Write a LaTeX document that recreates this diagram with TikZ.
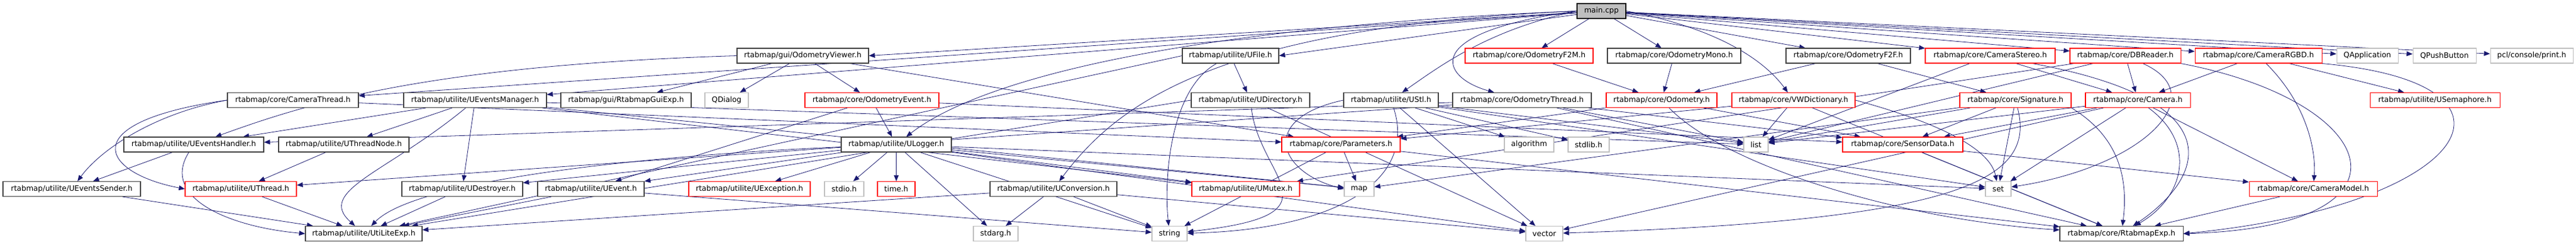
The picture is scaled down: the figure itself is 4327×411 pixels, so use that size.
\documentclass[tikz,border=0pt]{standalone}
\usepackage{fontspec}
\setmainfont{DejaVu Sans}
\usetikzlibrary{arrows.meta}
\definecolor{edgecol}{RGB}{25,25,112}
\definecolor{grayb}{RGB}{191,191,191}
\definecolor{redb}{RGB}{255,0,0}
\definecolor{blackb}{RGB}{64,64,64}
\pgfdeclarelayer{bg}
\pgfsetlayers{bg,main}
\begin{document}
\begin{tikzpicture}[x=1pt,y=-1pt,
  box/.style={draw, rectangle, minimum height=25pt, inner sep=0pt, line width=1.1pt,
              font=\fontsize{12.5pt}{15pt}\selectfont, fill=white},
  blk/.style={box, draw=blackb},
  rd/.style={box, draw=redb},
  gr/.style={box, draw=grayb},
  mainbox/.style={box, draw=black, fill=grayb},
  dep/.style={draw=edgecol, line width=0.8pt, -{Triangle[length=10pt,width=8pt]}}]
\useasboundingbox (0,0) rectangle (4327,411);
% row 0
\node[mainbox, minimum width=82pt] (main) at (2690,18.5) {main.cpp};
% row 1
\node[blk, minimum width=221pt] (OV) at (1348.5,93.5) {rtabmap/gui/OdometryViewer.h};
\node[blk, minimum width=162pt] (UFile) at (2067,93.5) {rtabmap/utilite/UFile.h};
\node[rd, minimum width=215pt] (F2M) at (2568.5,93.5) {rtabmap/core/OdometryF2M.h};
\node[blk, minimum width=224pt] (Mono) at (2812,93.5) {rtabmap/core/OdometryMono.h};
\node[blk, minimum width=209pt] (F2F) at (3104.5,93.5) {rtabmap/core/OdometryF2F.h};
\node[rd, minimum width=218pt] (CSt) at (3343,93.5) {rtabmap/core/CameraStereo.h};
\node[rd, minimum width=186pt] (DBR) at (3570,93.5) {rtabmap/core/DBReader.h};
\node[rd, minimum width=213pt] (CRGBD) at (3793.5,93.5) {rtabmap/core/CameraRGBD.h};
\node[gr, minimum width=103pt] (QApp) at (3976.5,93.5) {QApplication};
\node[gr, minimum width=106pt] (QPB) at (4106,93.5) {QPushButton};
\node[gr, minimum width=139pt] (pcl) at (4252.5,93.5) {pcl/console/print.h};
% row 2
\node[blk, minimum width=220pt] (CT) at (492,168) {rtabmap/core/CameraThread.h};
\node[blk, minimum width=240pt] (UEM) at (798,168) {rtabmap/utilite/UEventsManager.h};
\node[blk, minimum width=219pt] (GuiExp) at (1051.5,168) {rtabmap/gui/RtabmapGuiExp.h};
\node[gr, minimum width=73pt] (QDlg) at (1220.5,168) {QDialog};
\node[rd, minimum width=225pt] (OEv) at (1464.5,168) {rtabmap/core/OdometryEvent.h};
\node[blk, minimum width=199pt] (UDir) at (2100.5,168) {rtabmap/utilite/UDirectory.h};
\node[blk, minimum width=159pt] (UStl) at (2336.5,168) {rtabmap/utilite/UStl.h};
\node[blk, minimum width=233pt] (OThr) at (2556.5,168) {rtabmap/core/OdometryThread.h};
\node[rd, minimum width=186pt] (Odom) at (2791,168) {rtabmap/core/Odometry.h};
\node[rd, minimum width=207pt] (VWD) at (3012.5,168) {rtabmap/core/VWDictionary.h};
\node[rd, minimum width=187pt] (Sig) at (3385.5,168) {rtabmap/core/Signature.h};
\node[rd, minimum width=176pt] (Cam) at (3591,168) {rtabmap/core/Camera.h};
\node[rd, minimum width=218pt] (USem) at (4090,168) {rtabmap/utilite/USemaphore.h};
% row 3
\node[blk, minimum width=235pt] (UEH) at (325.5,242.5) {rtabmap/utilite/UEventsHandler.h};
\node[blk, minimum width=219pt] (UTN) at (577.5,242.5) {rtabmap/utilite/UThreadNode.h};
\node[blk, minimum width=185pt] (ULog) at (1505.5,242.5) {rtabmap/utilite/ULogger.h};
\node[rd, minimum width=199pt] (Par) at (2252.5,242.5) {rtabmap/core/Parameters.h};
\node[gr, minimum width=83pt] (alg) at (2568.5,242.5) {algorithm};
\node[gr, minimum width=69pt] (stdlib) at (2668.5,242.5) {stdlib.h};
\node[gr, minimum width=41pt] (list) at (2949.5,242.5) {list};
\node[rd, minimum width=202pt] (SD) at (3196,242.5) {rtabmap/core/SensorData.h};
% row 4
\node[blk, minimum width=231pt] (UES) at (120.5,317) {rtabmap/utilite/UEventsSender.h};
\node[rd, minimum width=187pt] (UTh) at (404.5,317) {rtabmap/utilite/UThread.h};
\node[blk, minimum width=203pt] (UDes) at (776.5,317) {rtabmap/utilite/UDestroyer.h};
\node[blk, minimum width=179pt] (UEv) at (992.5,317) {rtabmap/utilite/UEvent.h};
\node[rd, minimum width=204pt] (UExc) at (1259,317) {rtabmap/utilite/UException.h};
\node[gr, minimum width=66pt] (stdio) at (1418,317) {stdio.h};
\node[rd, minimum width=63pt] (time) at (1505.5,317) {time.h};
\node[blk, minimum width=213pt] (UConv) at (1769.5,317) {rtabmap/utilite/UConversion.h};
\node[rd, minimum width=181pt] (UMut) at (2092.5,317) {rtabmap/utilite/UMutex.h};
\node[gr, minimum width=50pt] (map) at (2283,317) {map};
\node[gr, minimum width=43pt] (set) at (3356.5,317) {set};
\node[rd, minimum width=215pt] (CMod) at (3885.5,317) {rtabmap/core/CameraModel.h};
% row 5
\node[blk, minimum width=196pt] (ULE) at (611,392) {rtabmap/utilite/UtiLiteExp.h};
\node[gr, minimum width=75pt] (stdarg) at (1672.5,392) {stdarg.h};
\node[gr, minimum width=59pt] (string) at (1964.5,392) {string};
\node[gr, minimum width=62pt] (vector) at (2594,392) {vector};
\node[blk, minimum width=207pt] (RExp) at (3563.5,392) {rtabmap/core/RtabmapExp.h};

\begin{pgfonlayer}{bg}
% main.cpp
\draw[dep] (main) -- (CT);
\draw[dep] (main) -- (UEM);
\draw[dep] (main) -- (OV.east);
\draw[dep] (main) -- (UFile.east);
\draw[dep] (main.west) .. controls (2000,45) and (1650,130) .. (ULog);
\draw[dep] (main.west) .. controls (2050,45) and (1880,170) .. (UConv);
\draw[dep] (main.west) .. controls (2500,50) and (2420,110) .. (UStl);
\draw[dep] (main.west) .. controls (2380,55) and (2420,130) .. (OThr);
\draw[dep] (main) -- (F2M);
\draw[dep] (main) -- (Mono);
\draw[dep] (main) -- (F2F);
\draw[dep] (main.east) .. controls (2900,50) and (2970,110) .. (VWD);
\draw[dep] (main) -- (CSt);
\draw[dep] (main) -- (DBR);
\draw[dep] (main) -- (CRGBD);
\draw[dep] (main) -- (QApp);
\draw[dep] (main) -- (QPB);
\draw[dep] (main) -- (pcl);
% CameraThread
\draw[dep] (CT.west) .. controls (260,190) and (170,250) .. (UES);
\draw[dep] (CT.west) .. controls (120,205) and (170,290) .. (UTh.west);
\draw[dep] (CT) -- (Par);
% UEventsManager
\draw[dep] (UEM) -- (UEH);
\draw[dep] (UEM) -- (UTN);
\draw[dep] (UEM) -- (UDes);
\draw[dep] (UEM) .. controls (650,290) and (530,320) .. (ULE);
\draw[dep] (UEM) -- (list);
\draw[dep] (UEM) -- (map);
\draw[dep] (UEM) -- (UMut);
% OdometryViewer
\draw[dep] (OV) -- (QDlg);
\draw[dep] (OV) -- (OEv);
\draw[dep] (OV) -- (GuiExp);
\draw[dep] (OV.west) .. controls (700,110) and (500,180) .. (UEH);
\draw[dep] (OV) -- (Par);
% UFile / UDirectory / UStl
\draw[dep] (UFile) -- (UDir);
\draw[dep] (UFile) .. controls (1965,150) and (1955,300) .. (string);
\draw[dep] (UFile.west) -- (ULE);
\draw[dep] (UDir) .. controls (2115,300) and (2260,360) .. (string);
\draw[dep] (UDir) -- (vector);
\draw[dep] (UDir.west) -- (ULE);
\draw[dep] (UStl) -- (alg);
\draw[dep] (UStl) -- (stdlib);
\draw[dep] (UStl.west) .. controls (2110,200) and (2150,290) .. (map.west);
\draw[dep] (UStl) -- (vector);
\draw[dep] (UStl) .. controls (2380,300) and (2250,385) .. (string);
\draw[dep] (UStl) -- (list);
\draw[dep] (UStl) -- (set);
% OdometryThread
\draw[dep] (OThr) -- (UEH);
\draw[dep] (OThr) -- (UTh);
\draw[dep] (OThr) -- (SD);
\draw[dep] (OThr) -- (list);
\draw[dep] (OThr) -- (RExp);
% Odometry family
\draw[dep] (F2M) -- (Odom);
\draw[dep] (Mono) -- (Odom);
\draw[dep] (F2F) -- (Odom);
\draw[dep] (F2F) -- (Sig);
\draw[dep] (Odom) -- (Par);
\draw[dep] (Odom) -- (SD);
\draw[dep] (Odom) .. controls (2900,280) and (3200,370) .. (RExp);
% VWDictionary
\draw[dep] (VWD) -- (list);
\draw[dep] (VWD) -- (Par);
\draw[dep] (VWD.east) .. controls (3290,215) and (3345,260) .. (set);
\draw[dep] (VWD) -- (RExp);
% Cameras
\draw[dep] (CSt) -- (Cam);
\draw[dep] (CSt) -- (list);
\draw[dep] (CSt) .. controls (3760,170) and (3700,300) .. (RExp);
\draw[dep] (DBR) -- (Cam);
\draw[dep] (DBR) .. controls (3720,160) and (3600,280) .. (set);
\draw[dep] (DBR.south east) .. controls (4000,170) and (4080,380) .. (RExp.east);
\draw[dep] (DBR) -- (UMut);
\draw[dep] (DBR) -- (list);
\draw[dep] (CRGBD) -- (Cam);
\draw[dep] (CRGBD) .. controls (3880,180) and (3890,260) .. (CMod);
\draw[dep] (CRGBD) -- (USem);
\draw[dep] (CRGBD.south east) .. controls (4280,140) and (4150,345) .. (RExp.east);
% Signature / Camera
\draw[dep] (Sig) -- (SD);
\draw[dep] (Sig) -- (set);
\draw[dep] (Sig.south east) .. controls (3560,230) and (3575,300) .. (RExp);
\draw[dep] (Sig) -- (map);
\draw[dep] (Sig) -- (list);
\draw[dep] (Sig) .. controls (3420,300) and (3300,370) .. (vector);
\draw[dep] (Cam) -- (SD);
\draw[dep] (Cam) -- (set);
\draw[dep] (Cam) .. controls (3690,240) and (3670,330) .. (RExp);
\draw[dep] (Cam) -- (CMod);
\draw[dep] (Cam) -- (list);
\draw[dep] (Cam) -- (vector);
% SensorData / CameraModel / Parameters
\draw[dep] (SD) -- (RExp);
\draw[dep] (SD) -- (CMod);
\draw[dep] (CMod) -- (RExp);
\draw[dep] (Par) -- (map);
\draw[dep] (Par) -- (string);
\draw[dep] (Par) -- (RExp);
% utilite
\draw[dep] (UEH) -- (UES);
\draw[dep] (UEH) .. controls (270,330) and (380,380) .. (ULE.west);
\draw[dep] (UES) -- (ULE);
\draw[dep] (UTN) -- (UTh);
\draw[dep] (UTh) -- (ULE);
\draw[dep] (OEv) -- (ULog);
\draw[dep] (OEv) -- (UEv);
\draw[dep] (OEv) -- (SD);
\draw[dep] (ULog) .. controls (1100,260) and (700,300) .. (ULE);
\draw[dep] (ULog) -- (UMut);
\draw[dep] (ULog) -- (UDes);
\draw[dep] (ULog) -- (UEv);
\draw[dep] (ULog) -- (UExc);
\draw[dep] (ULog) -- (stdio);
\draw[dep] (ULog) -- (time);
\draw[dep] (ULog) -- (string);
\draw[dep] (ULog) -- (vector);
\draw[dep] (ULog) -- (map);
\draw[dep] (ULog) -- (set);
\draw[dep] (ULog) -- (stdarg);
\draw[dep] (UEv) -- (ULE);
\draw[dep] (UEv) -- (string);
\draw[dep] (UDes) -- (ULE);
\draw[dep] (UConv) -- (ULE);
\draw[dep] (UConv) -- (string);
\draw[dep] (UConv) -- (vector);
\draw[dep] (UConv) -- (stdarg);
\end{pgfonlayer}
\end{tikzpicture}
\end{document}
